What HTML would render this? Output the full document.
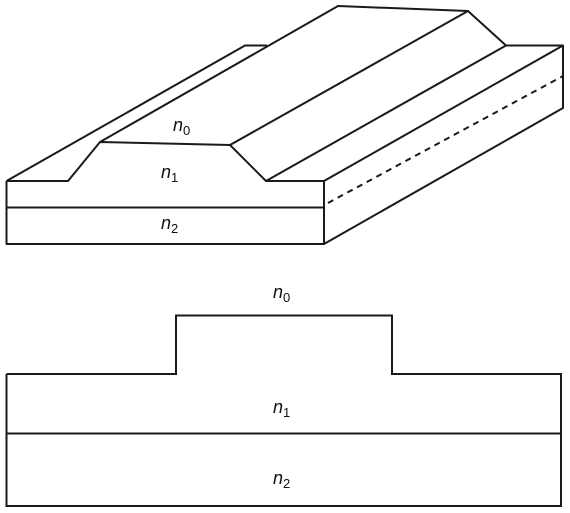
<!DOCTYPE html>
<html><head><meta charset="utf-8"><style>
html,body{margin:0;padding:0;background:#fff;}
svg{display:block;}
text{font-family:"Liberation Sans",sans-serif;font-size:18px;font-style:italic;fill:#111;}
tspan.s{font-style:normal;font-size:13px;}
</style></head><body>
<svg width="570" height="513" viewBox="0 0 570 513">
<g fill="none" stroke="#1a1a1a" stroke-width="2" stroke-linejoin="round">
<polyline points="6.5,181 68,181 100,142 230,145 266,181 324,181"/>
<polyline points="6.5,181 6.5,244 324,244 324,181"/>
<line x1="6.5" y1="207.5" x2="324" y2="207.5"/>
<polyline points="324,244 563,108 563,45.5 506,45.5 468,11 338,6 100,142"/>
<line x1="230" y1="145" x2="468" y2="11"/>
<line x1="266" y1="181" x2="506" y2="45.5"/>
<line x1="324" y1="181" x2="563" y2="45.5"/>
<polyline points="6.5,181 245,45.5 267,45.5"/>
<line x1="328" y1="203" x2="563" y2="76" stroke-dasharray="6,5"/>
</g>
<text x="173" y="131">n<tspan class="s" dy="4">0</tspan></text>
<text x="161" y="178">n<tspan class="s" dy="4">1</tspan></text>
<text x="161" y="229">n<tspan class="s" dy="4">2</tspan></text>
<g fill="none" stroke="#1a1a1a" stroke-width="2">
<polyline points="6.5,374 176,374 176,315.5 392,315.5 392,374 561,374 561,506 6.5,506 6.5,374"/>
<line x1="6.5" y1="433.5" x2="561" y2="433.5"/>
</g>
<text x="273" y="298">n<tspan class="s" dy="4">0</tspan></text>
<text x="273" y="413">n<tspan class="s" dy="4">1</tspan></text>
<text x="273" y="484">n<tspan class="s" dy="4">2</tspan></text>
</svg>
</body></html>
